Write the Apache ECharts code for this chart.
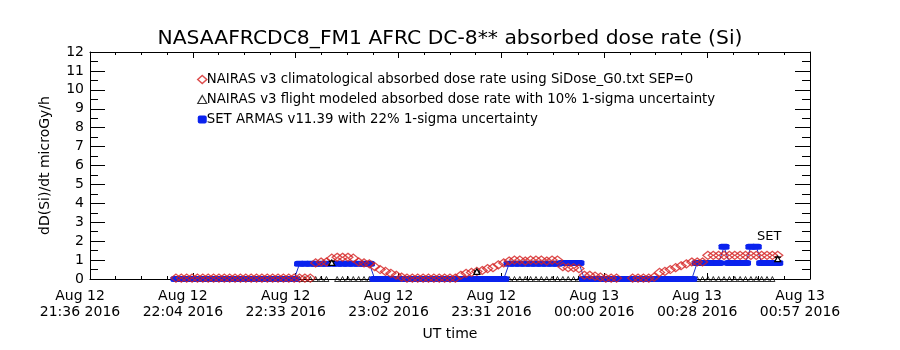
<!DOCTYPE html>
<html><head><meta charset="utf-8">
<script src="https://cdn.jsdelivr.net/npm/echarts@6/dist/echarts.min.js"></script>
<style>html,body{margin:0;padding:0;background:#fff}#c{width:900px;height:350px}</style>
</head><body><div id="c"></div>
<script>
// ---- data (time in minutes after Aug 12 2016 21:36 UT) ----
var titleText = 'NASAAFRCDC8_FM1 AFRC DC-8** absorbed dose rate (Si)';
var yTitle = 'dD(Si)/dt microGy/h';
var xTitle = 'UT time';
var xTickLabels = ['Aug 12\n21:36 2016','Aug 12\n22:04 2016','Aug 12\n22:33 2016','Aug 12\n23:02 2016','Aug 12\n23:31 2016','Aug 13\n00:00 2016','Aug 13\n00:28 2016','Aug 13\n00:57 2016'];
var xSpan = 201; // minutes covered by the axis
var seriesNames = ['NAIRAS v3 climatological absorbed dose rate using SiDose_G0.txt SEP=0',
                   'NAIRAS v3 flight modeled absorbed dose rate with 10% 1-sigma uncertainty',
                   'SET ARMAS v11.39 with 22% 1-sigma uncertainty'];
// NAIRAS climatological: sampled every 1.5 min starting at 24 min
var climStart = 24, climStep = 1.5;
var climValues = [
 0.05,0.05,0.05,0.05,0.05,0.05,0.05,0.05,0.05,0.05,
 0.05,0.05,0.05,0.05,0.05,0.05,0.05,0.05,0.05,0.05,
 0.05,0.05,0.05,0.05,0.05,0.05,0.85,0.9,0.9,1.1,
 1.15,1.15,1.15,1.1,0.9,0.85,0.8,0.65,0.5,0.4,
 0.3,0.2,0.1,0.05,0.05,0.05,0.05,0.05,0.05,0.05,
 0.05,0.05,0.05,0.2,0.3,0.35,0.4,0.45,0.55,0.6,
 0.75,0.85,0.95,1.0,1.0,0.95,1.0,1.0,1.0,0.95,
 1.0,1.0,0.65,0.6,0.6,0.55,0.2,0.2,0.15,0.1,
 0.05,0.05,0.05,null,null,0.05,0.05,0.05,0.05,0.1,
 0.35,0.4,0.5,0.6,0.7,0.8,0.9,0.9,0.9,1.25,
 1.25,1.25,1.25,1.25,1.25,1.25,1.25,1.25,1.25,1.25,
 1.25,1.25,1.25
];
// NAIRAS flight modeled: sampled every 1.5 min starting at 24 min
var flightStart = 24, flightStep = 1.5;
var flightValues = [
 0,0,0,0,0,0,0,0,0,0,
 0,0,0,0,0,0,0,0,0,0,
 0,0,0,0,0,0,0,0,0,0.85,
 0,0,0,0,0,0,0,0,0,0,
 0,0,0,0,0,0,0,0,0,0,
 0,0,0,0,0,0,0.38,0,0,0,
 0,0,0,0,0,0,0,0,0,0,
 0,0,0,0,0,0,0,0,0,0,
 0,0,0,0,0,0,0,0,0,0,
 0,0,0,0,0,0,0,0,0,0,
 0,0,0,0,0,0,0,0,0,0,
 0,0,1.05
];
var flightUnc = 0.10;
// SET ARMAS measurements: sampled every 1.5 min starting at 24 min
var setStart = 24, setStep = 1.5;
var setValues = [
 0,0,0,0,0,0,0,0,0,0,
 0,0,0,0,0,0,0,0,0,0,
 0,0,0,0.8,0.8,0.8,0.8,0.8,0.8,0.8,
 0.8,0.8,0.8,0.8,0.8,0.8,0.8,0,0,0,
 0,0,0,0,0,0,0,0,0,0,
 0,0,0,0,0,0,0,0,0,0,
 0,0,0.8,0.8,0.8,0.8,0.8,0.8,0.8,0.8,
 0.8,0.8,0.85,0.85,0.85,0.85,0,0,0,0,
 0,0,0,0,0,0,0,0,0,0,
 0,0,0,0,0,0,0,0.85,0.85,0.85,
 0.85,0.85,1.7,0.85,0.85,0.85,0.85,1.7,1.7,0.85,
 0.85,0.85,0.85
];
var setUnc = 0.22;

// ---- build ----
var clim = climValues.map(function(v,i){return [climStart+i*climStep, v];});
var setd = setValues.map(function(v,i){return [setStart+i*setStep, v];});
var flight = flightValues.map(function(v,i){return [flightStart+i*flightStep, v];});
var flightErr = flight.filter(function(d){return d[1] > 0.1;})
  .map(function(d){return [d[0], d[1]*(1-flightUnc), d[1]*(1+flightUnc), d[1]];});
var xInt = xSpan/7;
var FONT = 'DejaVu Sans';

function errRender(color, cap){
  return function(params, api){
    var x = api.value(0), lo = api.value(1), hi = api.value(2), v = api.value(3);
    var p1 = api.coord([x, lo]), p2 = api.coord([x, hi]), pc = api.coord([x, v]);
    var s = {stroke: color, lineWidth: 1.5, fill: null};
    return {type:'group', children:[
      {type:'line', shape:{x1:p1[0],y1:p1[1],x2:p2[0],y2:p2[1]}, style:s},
      {type:'line', shape:{x1:p1[0]-cap,y1:p1[1],x2:p1[0]+cap,y2:p1[1]}, style:s},
      {type:'line', shape:{x1:p2[0]-cap,y1:p2[1],x2:p2[0]+cap,y2:p2[1]}, style:s},
      {type:'polygon', shape:{points:[[pc[0],pc[1]-3],[pc[0]-3,pc[1]+2.5],[pc[0]+3,pc[1]+2.5]]},
       style:{stroke:color, lineWidth:1.2, fill:'#fff'}}
    ]};
  };
}

var axisCommon = {
  axisLine:{show:true, onZero:false, lineStyle:{color:'#000', width:1}},
  splitLine:{show:false}
};
var chart = echarts.init(document.getElementById('c'), null, {renderer:'canvas'});
chart.setOption({
  animation:false,
  backgroundColor:'#fff',
  title:{text:titleText, left:'center', top:24, textStyle:{fontFamily:FONT, fontSize:20.3, fontWeight:'normal', color:'#000'}},
  grid:{left:90, right:90, top:52, bottom:71, containLabel:false},
  legend:{
    orient:'vertical', left:192, top:68, itemGap:7, itemWidth:9, itemHeight:8,
    textStyle:{fontFamily:FONT, fontSize:13.3, color:'#000', padding:[0,0,0,-5]},
    data:[
      {name:seriesNames[0], icon:'diamond', itemStyle:{color:'#fff', borderColor:'#d42020', borderWidth:1.5}},
      {name:seriesNames[1], icon:'triangle', itemStyle:{color:'#fff', borderColor:'#000', borderWidth:1.2}},
      {name:seriesNames[2], icon:'roundRect', itemStyle:{color:'#0a22ee', borderWidth:0}}
    ]
  },
  xAxis:[
    Object.assign({type:'value', min:0, max:xInt*7, interval:xInt, position:'bottom',
      axisTick:{show:true, inside:true, length:6, lineStyle:{color:'#000'}},
      minorTick:{show:true, splitNumber:4, length:3, lineStyle:{color:'#000'}},
      axisLabel:{fontFamily:FONT, fontSize:14, color:'#000', margin:9, lineHeight:16, padding:[0,20,0,0],
        formatter:function(v){return xTickLabels[Math.round(v/xInt)] || '';}},
      name:xTitle, nameLocation:'middle', nameGap:48,
      nameTextStyle:{fontFamily:FONT, fontSize:14, color:'#000'}}, axisCommon),
    Object.assign({type:'value', min:0, max:xInt*7, interval:xInt, position:'top',
      axisTick:{show:true, inside:true, length:6, lineStyle:{color:'#000'}},
      minorTick:{show:true, splitNumber:4, length:3, lineStyle:{color:'#000'}},
      axisLabel:{show:false}}, axisCommon)
  ],
  yAxis:[
    Object.assign({type:'value', min:0, max:12, interval:1, position:'left',
      axisTick:{show:true, inside:true, length:15, lineStyle:{color:'#000'}},
      minorTick:{show:true, splitNumber:2, length:8, lineStyle:{color:'#000'}},
      axisLabel:{fontFamily:FONT, fontSize:14, color:'#000', margin:6},
      name:yTitle, nameLocation:'middle', nameGap:38, nameRotate:90,
      nameTextStyle:{fontFamily:FONT, fontSize:14, color:'#000'}}, axisCommon),
    Object.assign({type:'value', min:0, max:12, interval:1, position:'right',
      axisTick:{show:true, inside:true, length:15, lineStyle:{color:'#000'}},
      minorTick:{show:true, splitNumber:2, length:8, lineStyle:{color:'#000'}},
      axisLabel:{show:false}}, axisCommon)
  ],
  series:[
    {name:seriesNames[1], type:'scatter', data:flight, clip:true,
     symbol:'triangle', symbolSize:5,
     itemStyle:{color:'rgba(255,255,255,0)', borderColor:'#000', borderWidth:1}, z:1},
    {name:seriesNames[2], type:'line', data:setd, clip:true,
     symbol:'roundRect', symbolSize:[11,6], showAllSymbol:true,
     itemStyle:{color:'#0a22ee'}, lineStyle:{color:'#1a30d0', width:1}, z:2},
    {name:seriesNames[0], type:'scatter', data:clim, clip:true,
     symbol:'diamond', symbolSize:[10,8],
     itemStyle:{color:'rgba(255,255,255,0)', borderColor:'#d42020', borderWidth:1.3}, z:3},
    {type:'custom', data:flightErr, renderItem:errRender('#000',3), z:5, silent:true}
  ],
  graphic:[{type:'text', left:757, top:230, style:{text:'SET', font:'13px "DejaVu Sans"', fill:'#000'}}]
});
</script></body></html>
